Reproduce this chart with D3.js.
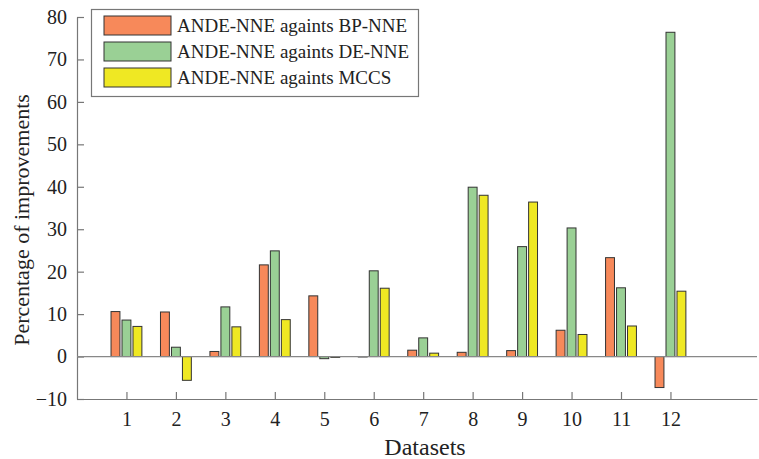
<!DOCTYPE html>
<html><head><meta charset="utf-8">
<script src="https://cdn.jsdelivr.net/npm/d3@7"></script>
<style>body{margin:0;background:#fff}svg{display:block}text{font-family:"Liberation Serif","Times New Roman","DejaVu Serif",serif;fill:#222}</style>
</head><body>
<svg id="c" width="759" height="459"></svg>
<script>
const datasets = [1,2,3,4,5,6,7,8,9,10,11,12];
const seriesNames = ["ANDE-NNE againts BP-NNE","ANDE-NNE againts DE-NNE","ANDE-NNE againts MCCS"];
const bpNNE = [10.6, 10.5, 1.2, 21.6, 14.3, -0.1, 1.5, 1.0, 1.4, 6.2, 23.3, -7.3];
const deNNE = [8.6, 2.2, 11.7, 24.9, -0.5, 20.2, 4.4, 39.9, 25.9, 30.3, 16.2, 76.4];
const mccs  = [7.1, -5.6, 7.0, 8.7, -0.2, 16.1, 0.8, 38.0, 36.4, 5.2, 7.2, 15.4];
const yTicks = [-10,0,10,20,30,40,50,60,70,80];
const colors = ["#F7895A","#9AD095","#EFE823"];

const svg = d3.select("#c");
const L=77, R=757, T=17, B=399;
const x = d3.scaleLinear().domain([0,13.75]).range([L,R]);
const y = d3.scaleLinear().domain([-10,80]).range([B,T]);
const series=[bpNNE,deNNE,mccs];
const offs=[-0.222,0,0.222], bw=0.18;

// axes
const ya = svg.append("g").attr("transform",`translate(${L},0)`)
  .call(d3.axisLeft(y).tickValues(yTicks).tickSizeInner(-7).tickSizeOuter(0).tickPadding(10));
const xa = svg.append("g").attr("transform",`translate(0,${B})`)
  .call(d3.axisBottom(x).tickValues(datasets).tickSizeInner(-7).tickSizeOuter(0).tickPadding(13));
[ya,xa].forEach(a=>{a.attr("font-family",null);a.select(".domain").attr("stroke","#777").attr("stroke-width",1.2);
  a.selectAll(".tick line").attr("stroke","#777").attr("stroke-width",1.2);
  a.selectAll(".tick text").attr("font-size",20).attr("fill","#222");});

// bars
series.forEach((s,i)=>{
  svg.append("g").selectAll("rect").data(s).join("rect")
    .attr("x",(d,j)=>x(datasets[j]+offs[i]-bw/2))
    .attr("width",x(bw)-x(0))
    .attr("y",d=>y(Math.max(0,d)))
    .attr("height",d=>Math.abs(y(d)-y(0)))
    .attr("fill",colors[i]).attr("stroke","#333").attr("stroke-width",1);
});
// baseline
svg.append("line").attr("x1",L).attr("x2",R).attr("y1",y(0)).attr("y2",y(0)).attr("stroke","#888").attr("stroke-width",1.2);

// titles
svg.append("text").attr("x",425).attr("y",455).attr("text-anchor","middle").attr("font-size",24).text("Datasets");
svg.append("text").attr("transform","translate(29,220) rotate(-90)").attr("text-anchor","middle").attr("font-size",22).text("Percentage of improvements");

// legend
const lg=svg.append("g");
lg.append("rect").attr("x",91.5).attr("y",9.5).attr("width",327).attr("height",87).attr("fill","#fff").attr("stroke","#777").attr("stroke-width",1.2);
seriesNames.forEach((n,i)=>{
  const yy=16+i*26;
  lg.append("rect").attr("x",104).attr("y",yy).attr("width",67).attr("height",19).attr("fill",colors[i]).attr("stroke","#333").attr("stroke-width",1);
  lg.append("text").attr("x",177).attr("y",yy+16).attr("font-size",19).text(n);
});
</script>
</body></html>
